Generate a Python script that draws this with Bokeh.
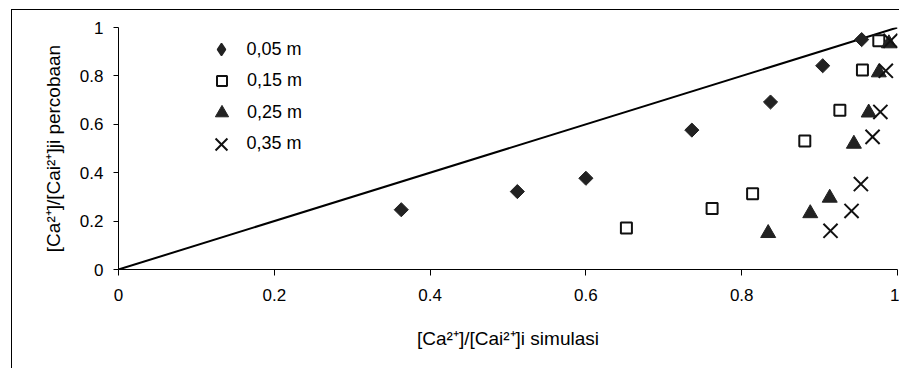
import numpy as np
from bokeh.plotting import figure
from bokeh.layouts import column
from bokeh.models import Legend, LegendItem, FixedTicker
from bokeh.embed import file_html
from bokeh.resources import INLINE

# ---------------- data ----------------
tick_values = [0.0, 0.2, 0.4, 0.6, 0.8, 1.0]
tick_labels = ["0", "0.2", "0.4", "0.6", "0.8", "1"]

line_x = [0.0, 1.0]
line_y = [0.0, 1.0]

series_labels = ["0,05 m", "0,15 m", "0,25 m", "0,35 m"]

x_005 = [0.363, 0.512, 0.600, 0.736, 0.837, 0.904, 0.954]
y_005 = [0.247, 0.322, 0.377, 0.576, 0.692, 0.842, 0.950]

x_015 = [0.652, 0.762, 0.814, 0.881, 0.926, 0.955, 0.976]
y_015 = [0.172, 0.252, 0.313, 0.531, 0.658, 0.824, 0.945]

x_025 = [0.834, 0.888, 0.913, 0.944, 0.963, 0.976, 0.989]
y_025 = [0.150, 0.232, 0.296, 0.519, 0.648, 0.814, 0.934]

x_035 = [0.914, 0.941, 0.953, 0.968, 0.978, 0.985, 0.991]
y_035 = [0.160, 0.242, 0.353, 0.548, 0.651, 0.821, 0.945]

x_title = "[Ca\u00b2\u207a]/[Cai\u00b2\u207a]i simulasi"
y_title = "[Ca\u00b2\u207a]/[Cai\u00b2\u207a]ji percobaan"

# ---------------- layout ----------------
FONT = "Liberation Sans"
TICK_FS = "17px"
TITLE_FS = "19px"
LEG_FS_PX = 18
W, H = 887, 358
ML, MR, MT, MB = 106, 2, 17, 99
FRAME_H = H - MT - MB

fig = figure(width=W, height=H, x_range=(0, 1), y_range=(0, 1),
             output_backend="svg", toolbar_location=None,
             min_border_left=ML, min_border_right=MR,
             min_border_top=MT, min_border_bottom=MB)
fig.grid.visible = False
fig.outline_line_color = None
fig.background_fill_color = "white"
fig.border_fill_color = "white"

for ax in (fig.xaxis[0], fig.yaxis[0]):
    ax.ticker = FixedTicker(ticks=tick_values)
    ax.major_label_overrides = dict(zip(tick_values, tick_labels))
    ax.minor_tick_line_color = None
    ax.major_tick_in = 0
    ax.axis_line_color = "black"
    ax.axis_line_width = 1
    ax.major_tick_line_color = "black"
    ax.major_label_text_font = FONT
    ax.major_label_text_font_size = TICK_FS
    ax.major_label_text_color = "black"
    ax.axis_label_text_font = FONT
    ax.axis_label_text_font_size = TITLE_FS
    ax.axis_label_text_font_style = "normal"
    ax.axis_label_text_color = "black"

fig.xaxis[0].major_tick_out = 6
fig.xaxis[0].major_label_standoff = 13
fig.xaxis[0].axis_label = x_title
fig.xaxis[0].axis_label_standoff = 24

fig.yaxis[0].major_tick_out = 5
fig.yaxis[0].major_label_standoff = 10
fig.yaxis[0].axis_label = y_title
fig.yaxis[0].axis_label_standoff = 13

# diagonal reference line
fig.line(line_x, line_y, line_color="black", line_width=2)

dark = "#222222"
r1 = fig.scatter(x_005, y_005, marker="square", angle=np.pi / 4, size=10,
                 fill_color=dark, line_color=dark, line_width=1)
r2 = fig.scatter(x_015, y_015, marker="square", size=11,
                 fill_color=None, line_color="#111111", line_width=2)
r3 = fig.scatter(x_025, y_025, marker="triangle", size=15,
                 fill_color=dark, line_color=dark, line_width=1)
r4 = fig.scatter(x_035, y_035, marker="x", size=20,
                 line_color="#111111", line_width=2)
# legend-only key for the diamond series (legend keys are drawn unrotated)
r1_key = fig.scatter(x_005, y_005, marker="diamond", size=13,
                     fill_color=dark, line_color=dark, line_width=1.5,
                     visible=False)

# legends: one per series so each key can get its own size
legend_centers_y = [39.3, 70.5, 102.0, 133.7]   # canvas px, row centres
legend_glyph = [30, 25, 33, 42]                 # glyph box -> key size 0.4*g
marker_cx = 103.4                               # key centre, from frame left
text_left = 113.7                               # label start, from frame left
text_w = 3.057 * LEG_FS_PX                      # width of "0,05 m" in Arial metrics
align_shift = -40                               # measured offset of right-aligned labels
for r, lab, cy, g in zip([r1_key, r2, r3, r4], series_labels, legend_centers_y, legend_glyph):
    left = marker_cx - g / 2
    top_rel = cy - MT - g / 2
    bottom_off = FRAME_H - (top_rel + g)
    standoff = max(0, int(round(text_left + text_w - (left + g))) + align_shift)
    leg = Legend(items=[LegendItem(label=lab, renderers=[r])],
                 location=(left, bottom_off),
                 padding=0, margin=0, spacing=0,
                 glyph_width=g, glyph_height=g,
                 label_standoff=standoff,
                 label_text_align="right",
                 label_text_font=FONT, label_text_font_size=f"{LEG_FS_PX}px",
                 label_text_color="black",
                 inactive_fill_alpha=0,
                 border_line_color=None, background_fill_alpha=0)
    fig.add_layout(leg, "center")

p = column(fig, margin=(9, 0, 0, 11),
           styles={"border-left": "1px solid #000", "border-top": "1px solid #000"})

open("out.html", "w").write(file_html(p, INLINE))
